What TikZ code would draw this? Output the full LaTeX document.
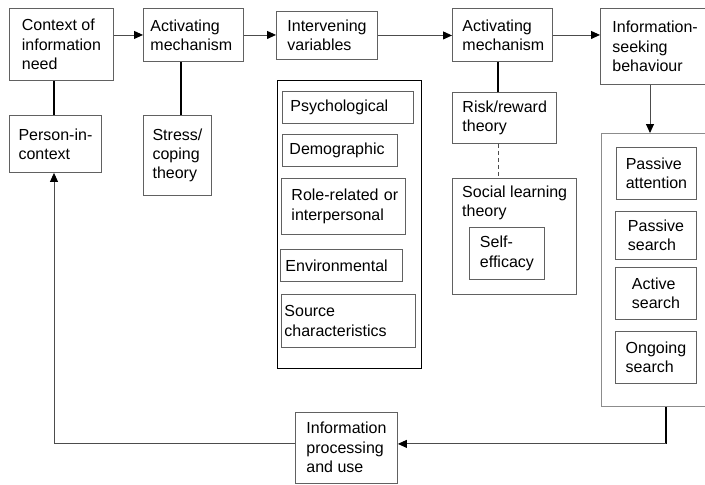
\documentclass[tikz,border=0pt]{standalone}
\usepackage{fontspec}
\setmainfont{Liberation Sans}
\usetikzlibrary{arrows.meta,calc}
\definecolor{boxgray}{gray}{0.38}
\definecolor{lightbox}{gray}{0.55}
\definecolor{linegray}{gray}{0.3}
\begin{document}
\begin{tikzpicture}[x=1pt,y=-1pt,
  font=\fontsize{16}{19.3}\selectfont,
  bx/.style={draw=boxgray, line width=0.9pt, anchor=north west, align=left, inner sep=0pt},
  lbx/.style n args={2}{bx, inner xsep=#1, text width=#2},
  arr/.style={draw=linegray, line width=0.9pt, -{Triangle[length=9pt,width=8pt,color=black]}},
  thk/.style={draw=black, line width=1.8pt},
  thinln/.style={draw=linegray, line width=0.9pt}]
\useasboundingbox (0,0) rectangle (705,485);

% top row
\node[bx, minimum width=104pt, minimum height=72pt] (ctx) at (9,8) {Context of\\information\\need};
\node[lbx={7pt}{86pt}, minimum height=53pt] (act1) at (143,8) {Activating\\mechanism};
\node[lbx={11pt}{79pt}, minimum height=48pt] (intv) at (276,11) {Intervening\\variables};
\node[lbx={10pt}{80pt}, minimum height=53pt] (act2) at (452,8) {Activating\\mechanism};
\node[lbx={12pt}{86pt}, minimum height=76pt] (isb) at (600,8) {Information-\\seeking\\behaviour};

% second row
\node[bx, minimum width=92pt, minimum height=57pt] (person) at (9,115) {Person-in-\\context};
\node[bx, minimum width=68pt, minimum height=80pt] (stress) at (143,115) {Stress/\\coping\\theory};

% intervening variables container
\node[draw=black, line width=1.4pt, anchor=north west, minimum width=144pt, minimum height=288pt, inner sep=0pt] (ivbox) at (277,80) {};
\node[lbx={8pt}{115pt}, minimum height=32pt] (psy) at (282,91) {Psychological};
\node[lbx={7pt}{101pt}, minimum height=32pt] (demo) at (282,134) {Demographic};
\node[lbx={10pt}{104pt}, minimum height=56pt] (role) at (281,178) {\mbox{Role-related or}\\interpersonal};
\node[lbx={5pt}{112pt}, minimum height=32pt] (env) at (280,249) {Environmental};
\node[lbx={3pt}{128pt}, minimum height=53pt] (src) at (281,294) {Source\\characteristics};

% activating mechanism theories
\node[lbx={10pt}{84pt}, minimum height=51pt] (risk) at (452,92) {Risk/reward\\theory};
\node[bx, minimum width=124pt, minimum height=116pt] (soc) at (452,178) {};
\node[anchor=north west, inner sep=0pt, align=left] (soclbl) at (462,185.5) {Social learning\\theory};
\node[bx, minimum width=75pt, minimum height=52pt] (self) at (469,227) {Self-\\efficacy};

% information-seeking behaviour container
\node[bx, draw=lightbox, minimum width=110pt, minimum height=273pt] (beh) at (601,133) {};
\node[bx, minimum width=80pt, minimum height=52pt] (pa) at (616,147) {Passive\\attention};
\node[bx, minimum width=81pt, minimum height=48pt] (ps) at (615,211) {Passive\\search};
\node[bx, minimum width=81pt, minimum height=52pt] (as) at (615,267) {Active\\search};
\node[bx, minimum width=81pt, minimum height=52pt] (og) at (615,331) {Ongoing\\search};

% bottom
\node[bx, minimum width=102pt, minimum height=71pt] (ip) at (295,411.5) {Information\\processing\\and use};

% connectors
\draw[arr] (ctx.east |- act1.west) -- (act1.west);
\draw[arr] (act1.east) -- (act1.east -| intv.west);
\draw[arr] (intv.east) -- (intv.east -| act2.west);
\draw[arr] (act2.east) -- (act2.east -| isb.west);

\coordinate (px) at ([xshift=45pt]person.north west);
\draw[thk] (px) -- (px |- ctx.south);
\coordinate (sx) at ([xshift=38pt]stress.north west);
\draw[thk] (sx) -- (sx |- act1.south);
\coordinate (rx) at ([xshift=46pt]risk.north west);
\draw[thk] (rx) -- (rx |- act2.south);
\draw[thinln, dash pattern=on 4pt off 3pt] (rx |- risk.south) -- (rx |- soc.north);

\coordinate (bx1) at ([xshift=49pt]beh.north west);
\draw[arr] (bx1 |- isb.south) -- (bx1);

\coordinate (bb) at ([xshift=65pt]beh.south west);
\coordinate (bc) at ($(bb)+(0,37)$);
\draw[thk] (bb) -- (bc);
\draw[arr] (bc) -- (bc -| ip.east);
\draw[arr] (bc -| ip.west) -- (bc -| px) -- (px |- person.south);
\end{tikzpicture}
\end{document}
